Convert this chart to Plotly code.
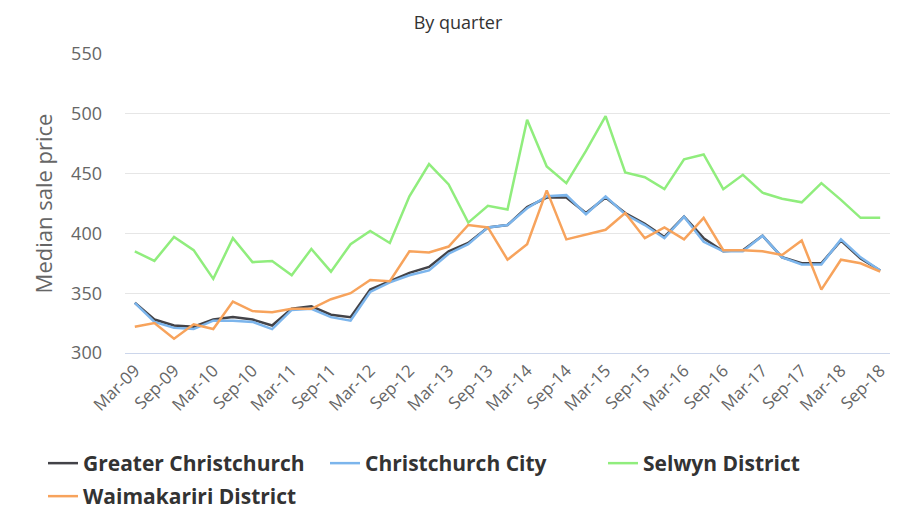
import plotly.graph_objects as go

quarters = ["Mar-09", "Jun-09", "Sep-09", "Dec-09",
            "Mar-10", "Jun-10", "Sep-10", "Dec-10",
            "Mar-11", "Jun-11", "Sep-11", "Dec-11",
            "Mar-12", "Jun-12", "Sep-12", "Dec-12",
            "Mar-13", "Jun-13", "Sep-13", "Dec-13",
            "Mar-14", "Jun-14", "Sep-14", "Dec-14",
            "Mar-15", "Jun-15", "Sep-15", "Dec-15",
            "Mar-16", "Jun-16", "Sep-16", "Dec-16",
            "Mar-17", "Jun-17", "Sep-17", "Dec-17",
            "Mar-18", "Jun-18", "Sep-18"]

greater_christchurch = [342, 328, 323, 322, 328, 330, 328, 323, 337, 339,
                        332, 330, 353, 360, 367, 372, 385, 392, 405, 407,
                        422, 430, 430, 417, 430, 417, 408, 397, 414, 396,
                        385, 386, 398, 380, 375, 375, 394, 379, 369]
christchurch_city = [342, 326, 321, 320, 327, 327, 326, 320, 336, 337,
                     330, 327, 351, 359, 365, 369, 383, 391, 405, 407,
                     421, 431, 432, 416, 431, 416, 407, 396, 414, 393,
                     385, 385, 398, 380, 374, 374, 395, 380, 369]
selwyn_district = [385, 377, 397, 386, 362, 396, 376, 377, 365, 387,
                   368, 391, 402, 392, 431, 458, 441, 409, 423, 420,
                   495, 456, 442, 469, 498, 451, 447, 437, 462, 466,
                   437, 449, 434, 429, 426, 442, 428, 413, 413]
waimakariri_district = [322, 325, 312, 324, 320, 343, 335, 334, 337, 337,
                        345, 350, 361, 360, 385, 384, 389, 407, 405, 378,
                        391, 436, 395, 399, 403, 417, 396, 405, 395, 413,
                        386, 386, 385, 382, 394, 353, 378, 375, 368]

tick_labels = [q for q in quarters if q.startswith("Mar") or q.startswith("Sep")]
y_ticks = [300, 350, 400, 450, 500, 550]

series = [
    ("Greater Christchurch", greater_christchurch, "#434348"),
    ("Christchurch City", christchurch_city, "#7cb5ec"),
    ("Selwyn District", selwyn_district, "#90ed7d"),
    ("Waimakariri District", waimakariri_district, "#f7a35c"),
]

# the page body has an 8px margin, so the figure is drawn 8px smaller
W, H = 892, 517
OFF = 8

# one legend box per entry (page-pixel left edge, top edge)
legend_ids = ["legend", "legend2", "legend3", "legend4"]
legend_pos = [(43, 443), (325, 443), (603, 443), (43, 476)]

fig = go.Figure()
for (name, vals, color), lid in zip(series, legend_ids):
    fig.add_trace(go.Scatter(x=quarters, y=vals, name=name, mode="lines",
                             line=dict(color=color, width=2.5), legend=lid,
                             showlegend=True))

legend_layout = {}
for lid, (lx, ly) in zip(legend_ids, legend_pos):
    legend_layout[lid] = dict(orientation="h", xref="container", yref="container",
                              x=(lx - OFF) / W, xanchor="left",
                              y=1 - (ly - OFF) / H, yanchor="top",
                              font=dict(size=21, color="#333333", weight="bold"),
                              itemwidth=30, bgcolor="rgba(0,0,0,0)",
                              visible=True)

fig.update_layout(
    width=W, height=H,
    showlegend=True,
    margin=dict(l=125 - OFF, r=10, t=54 - OFF, b=172, autoexpand=False),
    paper_bgcolor="white", plot_bgcolor="white",
    font=dict(family="Open Sans, sans-serif", color="#666666"),
    title=dict(text="By quarter", x=(458 - OFF) / W, xref="container", xanchor="center",
               y=1 - (23 - OFF) / H, yref="container", yanchor="middle",
               font=dict(size=18, color="#333333")),
    xaxis=dict(type="category", range=[-0.5, len(quarters) - 0.5],
               tickmode="array", tickvals=tick_labels, ticktext=tick_labels,
               tickangle=-45, tickfont=dict(size=17, color="#666666"),
               showgrid=False, showline=True, linecolor="#ccd6eb", linewidth=1,
               ticks="", zeroline=False, automargin=False),
    yaxis=dict(range=[300, 550], tickvals=y_ticks,
               tickfont=dict(size=18, color="#666666"),
               showgrid=True, gridcolor="#e6e6e6", gridwidth=1,
               zeroline=False, ticks="", ticklen=0, ticklabelstandoff=22,
               automargin=False,
               title=dict(text="Median sale price", standoff=12,
                          font=dict(size=22, color="#666666"))),
    **legend_layout,
)

fig.write_html("out.html")
